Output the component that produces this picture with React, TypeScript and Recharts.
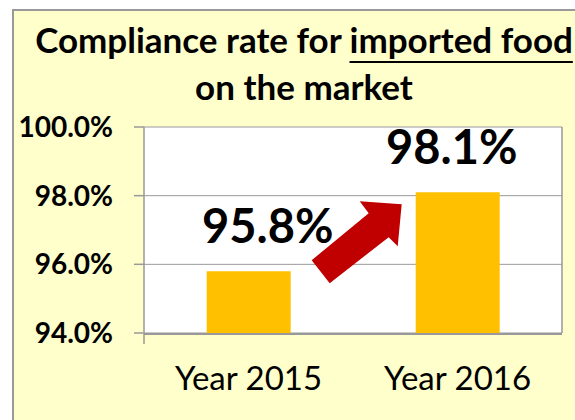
import { Bar, BarChart, CartesianGrid, LabelList, XAxis, YAxis } from "recharts";

// values
const YEARS = ["Year 2015", "Year 2016"];
const RATES = [95.8, 98.1];
const Y_TICKS = [94, 96, 98, 100];

const rows = YEARS.map((year, i) => ({ year, rate: RATES[i] }));

const FONT = "Lato, 'Open Sans', sans-serif";
const BAR_FILL = "#FFC000";
const ARROW_FILL = "#C00000";
const PANEL_BG = "#FFFFCC";
const LINE = "#999999";

// nudge of each value label from its bar centre (the source places them by hand)
const LABEL_DX = [19, -6];

// red arrow, drawn relative to the top-right corner of the first bar
const ARROW = [
  [21, -11],
  [78, -58],
  [69, -70],
  [111, -67],
  [107, -25],
  [98, -34],
  [39, 12],
];

function ValueLabel(props: any) {
  const { x, y, width, index, value } = props;
  const cx = Number(x) + Number(width) / 2 + (LABEL_DX[index] ?? 0);
  const ax = Number(x) + Number(width);
  const ay = Number(y);
  return (
    <g>
      {index === 0 ? (
        <polygon
          points={ARROW.map(([dx, dy]) => `${ax + dx},${ay + dy}`).join(" ")}
          fill={ARROW_FILL}
        />
      ) : null}
      <text
        x={cx}
        y={ay - 28}
        textAnchor="middle"
        fontFamily={FONT}
        fontWeight={700}
        fontSize={47}
        fill="#000"
      >
        {`${Number(value).toFixed(1)}%`}
      </text>
    </g>
  );
}

function YearTick(props: any) {
  const { x, y, payload } = props;
  return (
    <text
      x={x}
      y={y}
      dy={49}
      textAnchor="middle"
      fontFamily={FONT}
      fontSize={33}
      fill="#000"
    >
      {payload.value}
    </text>
  );
}

const titleStyle = {
  position: "absolute" as const,
  left: 32,
  width: 544,
  textAlign: "center" as const,
  fontSize: 35,
  fontWeight: 700,
  lineHeight: "40px",
  whiteSpace: "nowrap" as const,
  color: "#000",
};

export default function App() {
  return (
    <div
      style={{
        position: "absolute",
        left: 0,
        top: 0,
        width: 575,
        height: 420,
        overflow: "hidden",
        background: "#fff",
        fontFamily: FONT,
      }}
    >
      <div
        style={{
          position: "absolute",
          left: 12,
          top: 9,
          width: 600,
          height: 440,
          background: PANEL_BG,
          borderLeft: `2px solid ${LINE}`,
          borderTop: `2px solid ${LINE}`,
        }}
      />
      <div style={{ ...titleStyle, top: 19 }}>
        Compliance rate for{" "}
        <span
          style={{
            textDecoration: "underline",
            textDecorationThickness: 2,
            textUnderlineOffset: 8,
          }}
        >
          imported food
        </span>
      </div>
      <div style={{ ...titleStyle, top: 66 }}>on the market</div>
      <div style={{ position: "absolute", left: 0, top: 0 }}>
        <BarChart
          width={575}
          height={420}
          data={rows}
          margin={{ top: 127, right: 12, left: 44, bottom: 85 }}
          barCategoryGap="30%"
        >
          <CartesianGrid
            xAxisId="cat"
            vertical={false}
            stroke={LINE}
            fill="#fff"
            fillOpacity={1}
          />
          <XAxis
            xAxisId="edge"
            type="number"
            domain={[0, YEARS.length]}
            ticks={YEARS.map((_, i) => i).concat(YEARS.length)}
            allowDataOverflow
            height={1}
            tickSize={10}
            axisLine={{ stroke: LINE, strokeWidth: 2 }}
            tickLine={{ stroke: LINE, strokeWidth: 1.5 }}
            tick={() => <g />}
          />
          <XAxis
            xAxisId="cat"
            dataKey="year"
            height={1}
            axisLine={false}
            tickLine={false}
            interval={0}
            tick={<YearTick />}
          />
          <YAxis
            domain={[Y_TICKS[0], Y_TICKS[Y_TICKS.length - 1]]}
            ticks={Y_TICKS}
            width={100}
            tickSize={10}
            tickMargin={21}
            axisLine={{ stroke: LINE, strokeWidth: 1.5 }}
            tickLine={{ stroke: LINE, strokeWidth: 1.5 }}
            tickFormatter={(v: number) => `${v.toFixed(1)}%`}
            tick={{ fill: "#000", fontSize: 28, fontWeight: 700, fontFamily: FONT }}
          />
          <YAxis
            yAxisId="right"
            orientation="right"
            width={1}
            tick={false}
            tickLine={false}
            axisLine={{ stroke: LINE, strokeWidth: 1.5 }}
          />
          <Bar
            xAxisId="cat"
            dataKey="rate"
            fill={BAR_FILL}
            isAnimationActive={false}
          >
            <LabelList dataKey="rate" content={<ValueLabel />} />
          </Bar>
        </BarChart>
      </div>
    </div>
  );
}
